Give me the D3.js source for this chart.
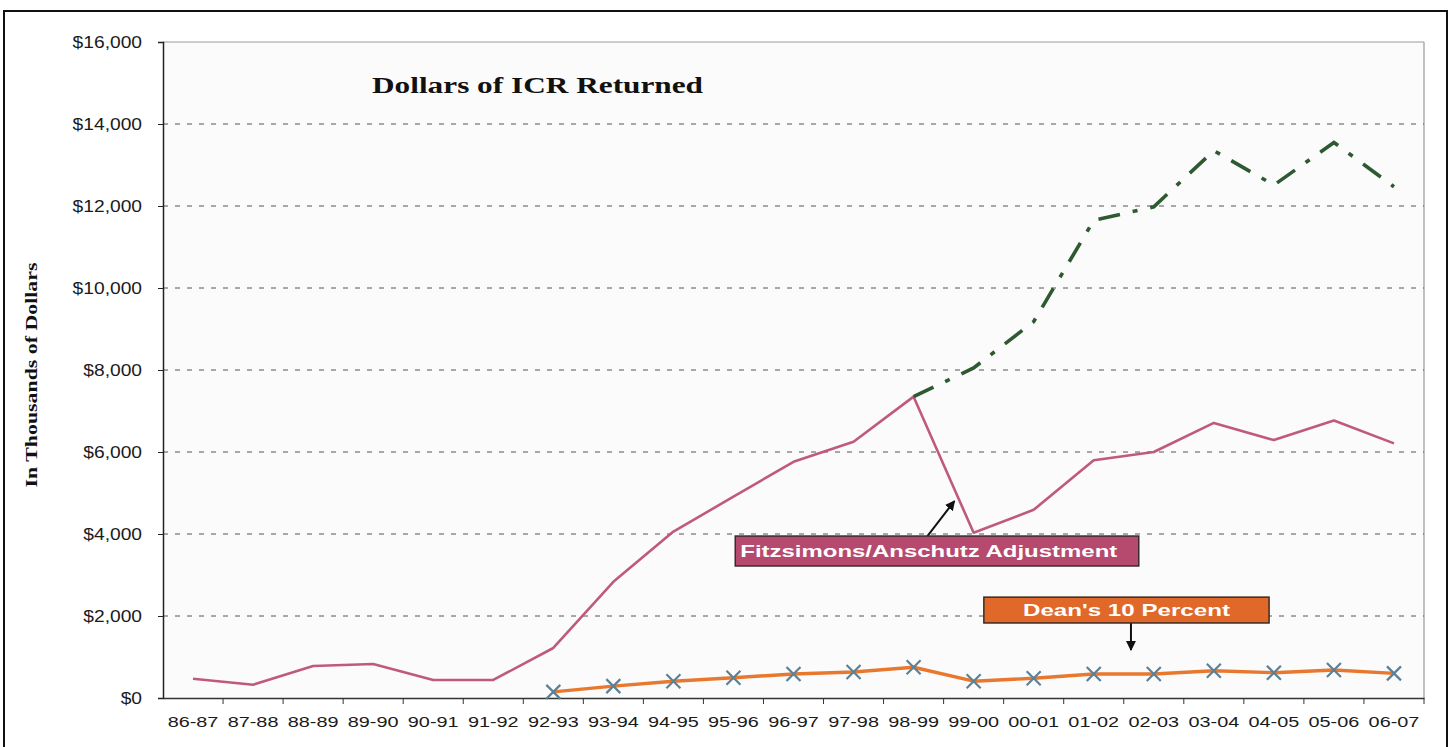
<!DOCTYPE html>
<html>
<head>
<meta charset="utf-8">
<script src="https://cdn.jsdelivr.net/npm/d3@7"></script>
<style>
  html, body { margin: 0; padding: 0; background: #ffffff; }
  svg { display: block; }
</style>
</head>
<body>
<svg id="chart" width="1454" height="747"></svg>
<script>
// ---------- DATA ----------
const categories = ["86-87","87-88","88-89","89-90","90-91","91-92","92-93","93-94","94-95","95-96","96-97","97-98","98-99","99-00","00-01","01-02","02-03","03-04","04-05","05-06","06-07"];
// Pink line: ICR returned (after Fitzsimons/Anschutz adjustment)
const totalValues = [470, 325, 780, 830, 440, 440, 1220, 2835, 4060, 4910, 5760, 6250, 7350, 4030, 4590, 5800, 6000, 6710, 6290, 6770, 6210];
// Green dash-dot line: without the adjustment
const unadjustedValues = [null, null, null, null, null, null, null, null, null, null, null, null, 7350, 8050, 9180, 11650, 11980, 13350, 12510, 13550, 12470];
// Orange line with X markers: Dean's 10 percent
const deanValues = [null, null, null, null, null, null, 150, 290, 410, 495, 585, 635, 750, 410, 480, 585, 585, 665, 617, 683, 600];
const yTicks = [0, 2000, 4000, 6000, 8000, 10000, 12000, 14000, 16000];
const titleText = "Dollars of ICR Returned";
const yLabelText = "In Thousands of Dollars";
const fitzLabel = "Fitzsimons/Anschutz Adjustment";
const deanLabel = "Dean's 10 Percent";

// ---------- LAYOUT ----------
const svg = d3.select("#chart");
const plot = { left: 163, right: 1424, top: 42, bottom: 698 };

const x = d3.scaleBand().domain(categories).range([plot.left, plot.right]).padding(0);
const y = d3.scaleLinear().domain([0, 16000]).range([plot.bottom, plot.top]);
const cx = c => x(c) + x.bandwidth() / 2;
// fractional category position (for annotations)
const xAt = i => cx(categories[0]) + i * x.step();

// stretch text horizontally to match the reference's wide lettering
function stretch(sel, ratio) {
  sel.each(function() {
    const len = this.getComputedTextLength();
    d3.select(this).attr("textLength", len * ratio).attr("lengthAdjust", "spacingAndGlyphs");
  });
}

// outer frame
svg.append("rect").attr("x", 4).attr("y", 11).attr("width", 1443).attr("height", 760)
  .attr("fill", "none").attr("stroke", "#111").attr("stroke-width", 2);

// plot background
svg.append("rect").attr("x", plot.left).attr("y", plot.top)
  .attr("width", plot.right - plot.left).attr("height", plot.bottom - plot.top)
  .attr("fill", "#fbfbfb");

// top and right borders of plot
svg.append("line").attr("x1", plot.left).attr("x2", plot.right).attr("y1", plot.top).attr("y2", plot.top)
  .attr("stroke", "#9a9a9a").attr("stroke-width", 1);
svg.append("line").attr("x1", plot.right).attr("x2", plot.right).attr("y1", plot.top).attr("y2", plot.bottom)
  .attr("stroke", "#9a9a9a").attr("stroke-width", 1.2);

// gridlines
svg.append("g").selectAll("line").data(yTicks.filter(v => v > 0 && v < 16000)).join("line")
  .attr("x1", plot.left).attr("x2", plot.right)
  .attr("y1", d => y(d)).attr("y2", d => y(d))
  .attr("stroke", "#555").attr("stroke-width", 1).attr("stroke-dasharray", "5,7");

// Y axis
const yAxis = svg.append("g").attr("transform", `translate(${plot.left},0)`)
  .call(d3.axisLeft(y).tickValues(yTicks).tickSize(5).tickPadding(16)
    .tickFormat(d => "$" + d3.format(",")(d)));
yAxis.select(".domain").attr("stroke", "#222").attr("stroke-width", 1.5);
yAxis.selectAll(".tick line").attr("stroke", "#222");
yAxis.selectAll("text").attr("font-family", "Liberation Sans, Arial, sans-serif")
  .attr("font-size", 16).attr("fill", "#1a1a1a");
stretch(yAxis.selectAll("text"), 1.2);

// X axis
const xAxis = svg.append("g").attr("transform", `translate(0,${plot.bottom})`)
  .call(d3.axisBottom(x).tickSize(0).tickPadding(18));
xAxis.select(".domain").attr("stroke", "#333").attr("stroke-width", 1.5);
xAxis.selectAll("text").attr("font-family", "Liberation Sans, Arial, sans-serif")
  .attr("font-size", 15.5).attr("fill", "#1a1a1a");
stretch(xAxis.selectAll("text"), 1.28);
// tick marks at category boundaries
xAxis.append("g").selectAll("line").data(categories.slice(1)).join("line")
  .attr("x1", d => x(d)).attr("x2", d => x(d)).attr("y1", 0).attr("y2", 6)
  .attr("stroke", "#333").attr("stroke-width", 1);
xAxis.append("line").attr("x1", plot.right).attr("x2", plot.right).attr("y1", 0).attr("y2", 6)
  .attr("stroke", "#333");

// ---------- SERIES ----------
const lineGen = d3.line().defined(d => d[1] != null).x(d => cx(d[0])).y(d => y(d[1]));
const zipped = vals => categories.map((c, i) => [c, vals[i]]);

// pink total line
svg.append("path").datum(zipped(totalValues)).attr("d", lineGen)
  .attr("fill", "none").attr("stroke", "#bf5a7e").attr("stroke-width", 2.6)
  .attr("stroke-linejoin", "round");

// green dash-dot line
svg.append("path").datum(zipped(unadjustedValues)).attr("d", lineGen)
  .attr("fill", "none").attr("stroke", "#2d5a30").attr("stroke-width", 3.6)
  .attr("stroke-dasharray", "22,13,5,13").attr("stroke-linecap", "butt");

// orange Dean's line
const deanData = zipped(deanValues).filter(d => d[1] != null);
svg.append("path").datum(deanData).attr("d", lineGen)
  .attr("fill", "none").attr("stroke", "#e8782e").attr("stroke-width", 3.4)
  .attr("stroke-linejoin", "round");
// X markers
const xm = 7;
svg.append("g").selectAll("path").data(deanData).join("path")
  .attr("d", d => {
    const px = cx(d[0]), py = y(d[1]);
    return `M${px - xm},${py - xm}L${px + xm},${py + xm}M${px - xm},${py + xm}L${px + xm},${py - xm}`;
  })
  .attr("stroke", "#5b8196").attr("stroke-width", 2.2).attr("fill", "none");

// ---------- TITLE & LABELS ----------
const title = svg.append("text").attr("x", 372).attr("y", 93)
  .attr("font-family", "Liberation Serif, Times New Roman, serif").attr("font-weight", "bold")
  .attr("font-size", 22.5).attr("fill", "#111").text(titleText);
title.attr("textLength", 331).attr("lengthAdjust", "spacingAndGlyphs");

svg.append("text").attr("transform", "translate(37,375) rotate(-90)")
  .attr("text-anchor", "middle")
  .attr("font-family", "Liberation Serif, Times New Roman, serif").attr("font-weight", "bold")
  .attr("font-size", 16).attr("fill", "#111")
  .attr("textLength", 225).attr("lengthAdjust", "spacingAndGlyphs")
  .text(yLabelText);

// ---------- ANNOTATIONS ----------
const defs = svg.append("defs");
defs.append("marker").attr("id", "arrow").attr("viewBox", "0 0 10 10")
  .attr("refX", 9).attr("refY", 5).attr("markerWidth", 5).attr("markerHeight", 5)
  .attr("orient", "auto-start-reverse")
  .append("path").attr("d", "M0,0L10,5L0,10Z").attr("fill", "#111");

// Fitzsimons/Anschutz box
const fitzBox = { i0: 9.03, i1: 15.75, vTop: 3950, vBot: 3220 };
const fx0 = xAt(fitzBox.i0), fx1 = xAt(fitzBox.i1), fy0 = y(fitzBox.vTop), fy1 = y(fitzBox.vBot);
// arrow to the drop segment between 98-99 and 99-00
const dropI = categories.indexOf("98-99");
const t = 0.73;
const tipX = cx(categories[dropI]) + t * x.step();
const tipY = y(totalValues[dropI] + t * (totalValues[dropI + 1] - totalValues[dropI])) + 5;
svg.append("line").attr("x1", xAt(12.23)).attr("y1", fy0).attr("x2", tipX - 3).attr("y2", tipY)
  .attr("stroke", "#111").attr("stroke-width", 2).attr("marker-end", "url(#arrow)");
svg.append("rect").attr("x", fx0).attr("y", fy0).attr("width", fx1 - fx0).attr("height", fy1 - fy0)
  .attr("fill", "#b64a6e").attr("stroke", "#3a2a2e").attr("stroke-width", 1.5);
svg.append("text").attr("x", fx0 + 5).attr("y", fy0 + 20.5)
  .attr("font-family", "Liberation Sans, Arial, sans-serif").attr("font-weight", "bold")
  .attr("font-size", 17).attr("fill", "#ffffff")
  .attr("textLength", 377).attr("lengthAdjust", "spacingAndGlyphs")
  .text(fitzLabel);

// Dean's 10 Percent box
const deanBox = { i0: 13.17, i1: 17.92, vTop: 2460, vBot: 1830 };
const dx0 = xAt(deanBox.i0), dx1 = xAt(deanBox.i1), dy0 = y(deanBox.vTop), dy1 = y(deanBox.vBot);
svg.append("line").attr("x1", xAt(15.62)).attr("y1", dy1).attr("x2", xAt(15.62)).attr("y2", y(1170))
  .attr("stroke", "#111").attr("stroke-width", 2).attr("marker-end", "url(#arrow)");
svg.append("rect").attr("x", dx0).attr("y", dy0).attr("width", dx1 - dx0).attr("height", dy1 - dy0)
  .attr("fill", "#e0692a").attr("stroke", "#3a2a22").attr("stroke-width", 1.5);
svg.append("text").attr("x", (dx0 + dx1) / 2).attr("y", dy0 + 19).attr("text-anchor", "middle")
  .attr("font-family", "Liberation Sans, Arial, sans-serif").attr("font-weight", "bold")
  .attr("font-size", 17).attr("fill", "#ffffff")
  .attr("textLength", 207).attr("lengthAdjust", "spacingAndGlyphs")
  .text(deanLabel);
</script>
</body>
</html>
